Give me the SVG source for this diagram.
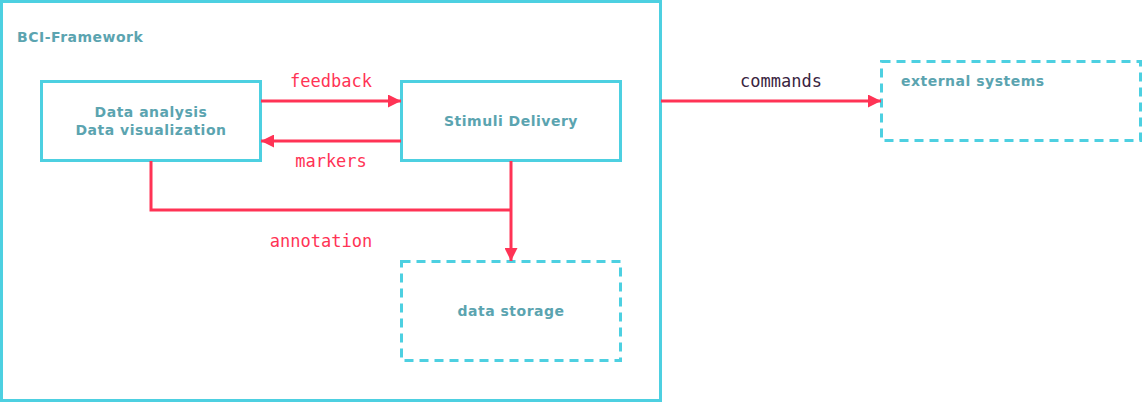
<svg xmlns="http://www.w3.org/2000/svg" width="1143" height="403" viewBox="0 0 1143 403">
<defs>
<style>
.box{fill:none;stroke:#4dd0e1;stroke-width:3}
.dash{stroke-dasharray:9 6}
.nt{font-family:"DejaVu Sans",sans-serif;font-weight:bold;font-size:14px;letter-spacing:0.5px;fill:#5ba4b0}
.lb{font-family:"DejaVu Sans Mono",monospace;font-size:17px;fill:#ff3355;text-anchor:middle}
.cn{fill:none;stroke:#ff3355;stroke-width:3}
</style>
<marker id="ah" viewBox="0 0 13 13" refX="13" refY="6.5" markerWidth="13" markerHeight="13" markerUnits="userSpaceOnUse" orient="auto">
<path d="M0,0 L13,6.5 L0,13 Z" fill="#ff3355"/>
</marker>
</defs>
<rect width="1143" height="403" fill="#fff"/>
<g id="framework">
<rect class="box" x="1.5" y="1.5" width="659" height="399"/>
<text class="nt" x="17" y="42">BCI-Framework</text>
</g>
<g id="analysis">
<rect class="box" x="41.5" y="81.5" width="219" height="79"/>
<text class="nt" x="151" y="117" text-anchor="middle">Data analysis</text>
<text class="nt" x="151" y="135" text-anchor="middle">Data visualization</text>
</g>
<g id="stimuli">
<rect class="box" x="401.5" y="81.5" width="219" height="79"/>
<text class="nt" x="511" y="126" text-anchor="middle">Stimuli Delivery</text>
</g>
<g id="storage">
<rect class="box dash" x="401.5" y="261.5" width="219" height="99"/>
<text class="nt" x="511" y="316" text-anchor="middle">data storage</text>
</g>
<g id="external">
<rect class="box dash" x="881.5" y="61.5" width="259" height="79"/>
<text class="nt" x="901" y="86">external systems</text>
</g>
<g id="connectors">
<path class="cn" d="M261,101 H401" marker-end="url(#ah)"/>
<path class="cn" d="M401,141 H261" marker-end="url(#ah)"/>
<path class="cn" d="M661,101 H881" marker-end="url(#ah)"/>
<path class="cn" d="M151,161 V210 H511"/>
<path class="cn" d="M511,161 V261" marker-end="url(#ah)"/>
<text class="lb" x="331" y="87">feedback</text>
<text class="lb" x="331" y="167">markers</text>
<text class="lb" x="321" y="247">annotation</text>
<text class="lb" x="781" y="87" style="fill:#3a2440">commands</text>
</g>
</svg>
